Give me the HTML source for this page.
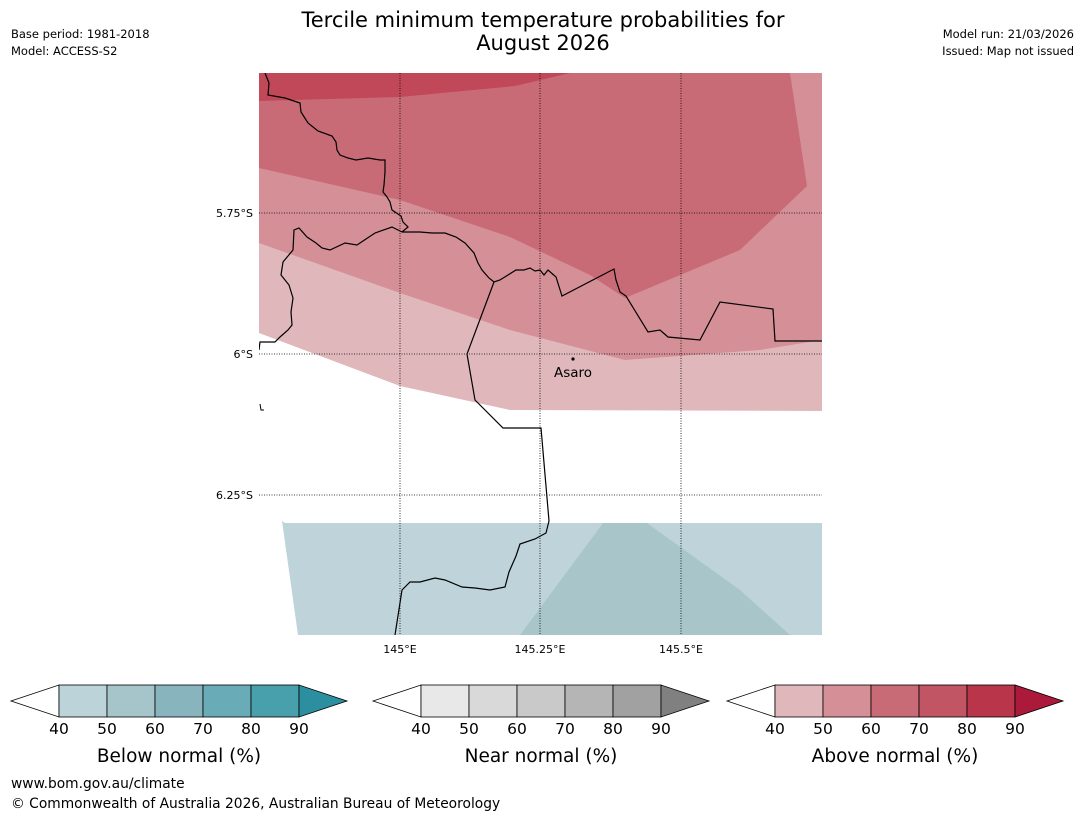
<!DOCTYPE html>
<html><head><meta charset="utf-8"><style>
body{margin:0;background:#fff;}
svg text{font-family:"DejaVu Sans","Liberation Sans",sans-serif;}
</style></head><body>
<svg id="root" width="1085" height="816" viewBox="0 0 1085 816" xmlns="http://www.w3.org/2000/svg">
<rect width="1085" height="816" fill="#fff"/>
<text x="543" y="27" font-size="21" text-anchor="middle">Tercile minimum temperature probabilities for</text>
<text x="543" y="50" font-size="21" text-anchor="middle">August 2026</text>
<text x="11" y="38" font-size="11.5">Base period: 1981-2018</text>
<text x="11" y="55" font-size="11.5">Model: ACCESS-S2</text>
<text x="1074" y="38" font-size="11.5" text-anchor="end">Model run: 21/03/2026</text>
<text x="1074" y="55" font-size="11.5" text-anchor="end">Issued: Map not issued</text>

<g>
<clipPath id="mc"><rect x="259" y="73" width="563" height="562"/></clipPath>
<g clip-path="url(#mc)">
<polygon fill="#e0b8bc" points="259,73 822,73 822,411 510,410 400,386 259,333"/>
<polygon fill="#d48f97" points="259,73 822,73 822,340 760,350 625,360 510,330 400,293 259,243"/>
<polygon fill="#c96b76" points="259,73 790,73 807,186 740,250 625,298 590,275 510,237 400,200 259,168"/>
<polygon fill="#c04858" points="259,73 570,73 515,86 400,97 259,101"/>
<polygon fill="#bfd4da" points="282,521 285,523 822,523 822,635 298,635"/>
<polygon fill="#a8c6ca" points="520,635 603,523 647,523 740,590 790,635"/>
<polyline fill="none" stroke="#000" stroke-width="1.2" points="265,73 269,83 268,95 285,98 300,103 301,112 308,123 318,131 332,136 336,142 337,150 340,155 348,158 356,160 368,158 380,160 385,160 385,172 384,185 383,192 387,197 390,202 392,210 401,216 403,222 408,227 402,232"/>
<polyline fill="none" stroke="#000" stroke-width="1.2" points="402,232 392,227 375,233 357,245 345,243 330,250 322,248 316,243 307,237 299,228 294,230 293,250 283,262 281,275 289,285 293,298 291,312 292,325 288,330 280,337 275,342 260,342 259,350"/>
<polyline fill="none" stroke="#000" stroke-width="1.2" points="402,232 412,232 420,232 432,233 445,233 456,237 465,243 474,253 478,263 482,270 489,278 494,282 500,280 508,275 516,270 524,270 530,268 535,271 540,270 544,275 548,270 556,277 562,296 614,269 616,280 620,292 626,296 648,332 660,330 668,337 700,340 720,302 773,309 775,341 822,341"/>
<polyline fill="none" stroke="#000" stroke-width="1.2" points="494,282 467,354 475,400 503,428 541,428 549,521 546,533 535,539 520,544 516,556 509,572 505,587 490,590 475,588 462,587 445,580 435,578 420,582 410,582 402,590 395,635"/>
<path d="M260,404 L261,410 L264,410" stroke="#000" fill="none"/>
</g>
<g stroke="#000" stroke-width="0.8" stroke-dasharray="1,1.5">
<line x1="400" y1="73" x2="400" y2="635"/><line x1="540" y1="73" x2="540" y2="635"/><line x1="681" y1="73" x2="681" y2="635"/>
<line x1="259" y1="213" x2="822" y2="213"/><line x1="259" y1="354" x2="822" y2="354"/><line x1="259" y1="495" x2="822" y2="495"/>
</g>
<circle cx="573" cy="359" r="1.6" fill="#000"/>
<text x="573" y="377" font-size="13.5" text-anchor="middle">Asaro</text>
<g font-size="11">
<text x="253" y="217" text-anchor="end">5.75°S</text>
<text x="253" y="358" text-anchor="end">6°S</text>
<text x="253" y="499" text-anchor="end">6.25°S</text>
<text x="400" y="653" text-anchor="middle">145°E</text>
<text x="540" y="653" text-anchor="middle">145.25°E</text>
<text x="681" y="653" text-anchor="middle">145.5°E</text>
</g>
</g>
<g id="cbars"></g>
<text x="11" y="788" font-size="13.8">www.bom.gov.au/climate</text>
<text x="11" y="808" font-size="13.8">© Commonwealth of Australia 2026, Australian Bureau of Meteorology</text>
</svg>
<script>
const tickLabels = [40, 50, 60, 70, 80, 90];
const belowColors = ["#bdd3da","#a6c5ca","#88b5bd","#6aabb8","#48a0ad","#2b8f9f"];
const nearColors = ["#e8e8e8","#d9d9d9","#c9c9c9","#b5b5b5","#a1a1a1","#808080"];
const aboveColors = ["#e0b8bc","#d48f97","#c96b76","#c15563","#b8354a","#ab1a3a"];
const barTitles = ["Below normal (%)","Near normal (%)","Above normal (%)"];
(function(){
const NS = "http://www.w3.org/2000/svg";
const g = document.getElementById('cbars');
const starts = [59, 421, 775];
const sets = [belowColors, nearColors, aboveColors];
const names = ['below', 'near', 'above'];
const segW = 48, barTop = 685, h = 32;
const xScale = (x0, v) => x0 + (v - tickLabels[0]) / (tickLabels[1] - tickLabels[0]) * segW;
function mk(tag, attrs){ const e = document.createElementNS(NS, tag); for (const k in attrs) e.setAttribute(k, attrs[k]); return e; }
sets.forEach((cols, i) => {
  const x0 = starts[i];
  const grp = mk('g', {});
  
  
  const lt = mk('polygon', {points: `${x0},${barTop} ${x0},${barTop+h} ${x0-48},${barTop+h/2}`, fill: '#fff', stroke: '#000', 'stroke-width': 0.8});
  
  
  grp.appendChild(lt);
  for (let k = 0; k < tickLabels.length - 1; k++) {
    const xa = xScale(x0, tickLabels[k]), xb = xScale(x0, tickLabels[k+1]);
    const r = mk('rect', {x: xa, y: barTop, width: xb - xa, height: h, fill: cols[k], stroke: '#000', 'stroke-width': 0.8});
    
    
    grp.appendChild(r);
  }
  const xe = xScale(x0, tickLabels[tickLabels.length-1]);
  const rt = mk('polygon', {points: `${xe},${barTop} ${xe},${barTop+h} ${xe+48},${barTop+h/2}`, fill: cols[5], stroke: '#000', 'stroke-width': 0.8});
  
  
  grp.appendChild(rt);
  tickLabels.forEach(v => {
    const t = mk('text', {x: xScale(x0, v), y: barTop + h + 17, 'font-size': 15.5, 'text-anchor': 'middle'});
    t.textContent = v;
    
    
    grp.appendChild(t);
  });
  const tt = mk('text', {x: x0 + 120, y: 762, 'font-size': 18.5, 'text-anchor': 'middle'});
  tt.textContent = barTitles[i];
  
  
  grp.appendChild(tt);
  g.appendChild(grp);
});
})();
</script>
</body></html>
